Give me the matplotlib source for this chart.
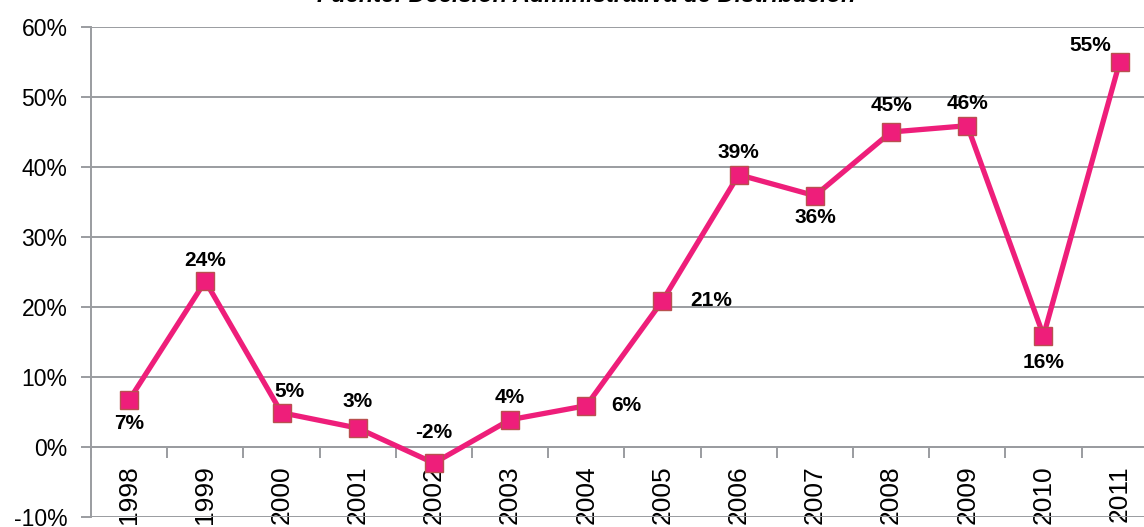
import matplotlib
matplotlib.use("Agg")
import matplotlib.pyplot as plt
from matplotlib.ticker import FixedLocator, FuncFormatter

years = ["1998", "1999", "2000", "2001", "2002", "2003", "2004",
         "2005", "2006", "2007", "2008", "2009", "2010", "2011"]
values = [6.7, 23.7, 4.9, 2.7, -2.3, 3.9, 5.9, 20.9, 38.9, 35.9, 45.0, 45.9, 15.9, 55.0]
title = "Fuente: Decisión Administrativa de Distribución"

# label placement: (dx, dy) in offset points, horizontal alignment
label_pos = [((0, -17), "center"), ((0, 15), "center"), ((6, 15), "center"),
             ((0, 19), "center"), ((0, 22), "center"), ((0, 16), "center"),
             ((18, 0), "left"), ((20, 0), "left"), ((0, 16), "center"),
             ((0, -16), "center"), ((0, 19), "center"), ((0, 16), "center"),
             ((0, -19), "center"), ((-21, 12), "center")]

plt.rcParams['font.family'] = ['Liberation Sans', 'DejaVu Sans']

W, H = 1144, 527
fig = plt.figure(figsize=(W / 100, H / 100), dpi=100)
left = 91 / W
width = (76.2 * 14) / W
bottom = 1 - 517 / H
top = 1 - 27 / H
ax = fig.add_axes([left, bottom, width, top - bottom])

grid_c = "#9A9CA0"
x = list(range(len(years)))
ax.plot(x, values, color="#EE1E7A", lw=3.8, marker="s", ms=13,
        markerfacecolor="#EE1E7A", markeredgecolor="#B9504F", markeredgewidth=1.0,
        zorder=3, clip_on=False)

for xi, v, (off, ha) in zip(x, values, label_pos):
    ax.annotate(f"{round(v):d}%", (xi, v), xytext=off, textcoords="offset points",
                ha=ha, va="center", fontsize=15, fontweight="bold",
                color="black", zorder=5)

ax.set_xlim(-0.5, len(years) - 0.5)
ax.set_ylim(-10, 60)
ax.set_yticks(range(-10, 61, 10))
ax.yaxis.set_major_formatter(FuncFormatter(lambda v, p: f"{v:.0f}%"))
ax.grid(axis="y", color=grid_c, lw=1.4)
ax.set_axisbelow(True)

for s in ["top", "right"]:
    ax.spines[s].set_visible(False)
ax.spines["left"].set_color(grid_c)
ax.spines["left"].set_linewidth(1.4)
ax.spines["bottom"].set_position(("data", 0))
ax.spines["bottom"].set_color(grid_c)
ax.spines["bottom"].set_linewidth(1.4)

ax.xaxis.set_major_locator(FixedLocator([i + 0.5 for i in range(-1, len(years))]))
ax.xaxis.set_major_formatter(FuncFormatter(lambda v, p: ""))
ax.xaxis.set_minor_locator(FixedLocator(x))
ax.set_xticks(x, minor=True)
ax.set_xticklabels(years, minor=True, rotation=90, fontsize=19)
ax.tick_params(axis="x", which="major", length=8, width=1.4, color=grid_c, direction="out")
ax.tick_params(axis="x", which="minor", length=0, pad=13)
ax.tick_params(axis="y", length=7, width=1.4, color=grid_c, labelsize=16.5, pad=10)
for lbl in ax.get_xticklabels(minor=True):
    lbl.set_va("top")

fig.text(586 / W, 1 - 2.5 / H, title, ha="center", va="baseline", fontsize=17,
         fontweight="bold", fontstyle="italic")

fig.savefig("out.png", dpi=100)
